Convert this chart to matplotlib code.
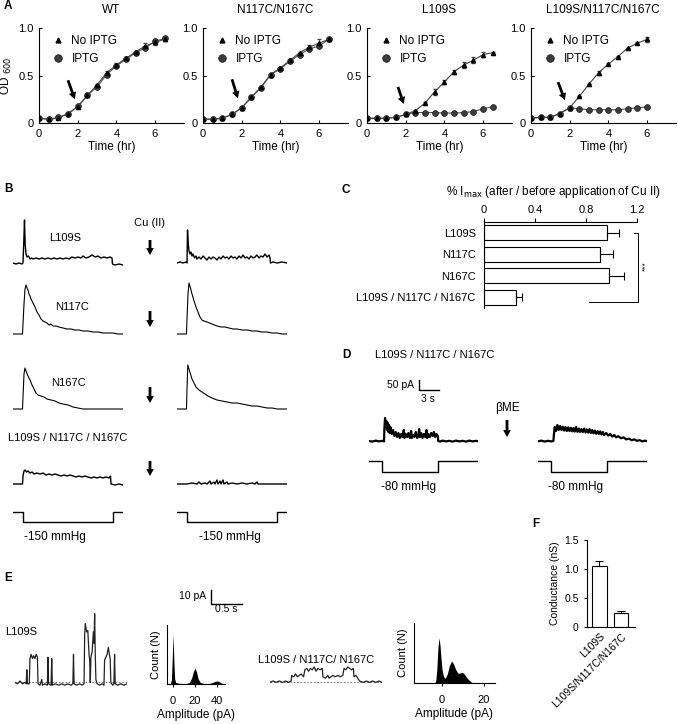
import matplotlib
matplotlib.use("Agg")
import matplotlib.pyplot as plt
from matplotlib.lines import Line2D
from matplotlib.patches import FancyArrowPatch

plt.rcParams['font.family'] = ['Liberation Sans', 'DejaVu Sans']
plt.rcParams['font.size'] = 8
plt.rcParams['axes.linewidth'] = 0.8

W, H = 678, 724
fig = plt.figure(figsize=(W / 100, H / 100), dpi=100)

ARROW = 'simple,head_length=0.5,head_width=0.55,tail_width=0.2'


def pax(l, t, w, h):
    """axes placed by pixel box (left, top, width, height)"""
    return fig.add_axes([l / W, 1 - (t + h) / H, w / W, h / H])


def ftxt(x, y, s, **kw):
    kw.setdefault('ha', 'center')
    kw.setdefault('va', 'center')
    fig.text(x / W, 1 - y / H, s, **kw)


def farrow(x, y0, y1):
    fig.add_artist(FancyArrowPatch(
        (x / W, 1 - y0 / H), (x / W, 1 - y1 / H), transform=fig.transFigure,
        arrowstyle=ARROW, mutation_scale=10, lw=0, color='k', shrinkA=0, shrinkB=0))


def split(pairs):
    return [p[0] for p in pairs], [p[1] for p in pairs]


# ---------------- A : growth curves ----------------
time_hr = [0, 0.5, 1, 1.5, 2, 2.5, 3, 3.5, 4, 4.5, 5, 5.5, 6, 6.5]

wt_no = [0.05, 0.04, 0.05, 0.10, 0.17, 0.29, 0.40, 0.53, 0.61, 0.68, 0.75, 0.81, 0.85, 0.88]
wt_ip = [0.05, 0.04, 0.06, 0.095, 0.175, 0.29, 0.38, 0.51, 0.60, 0.67, 0.74, 0.79, 0.86, 0.89]
wt_err = [0, 0, 0, 0, 0, 0, 0.01, 0.02, 0.02, 0.02, 0.01, 0.03, 0.03, 0.02]

dm_no = [0.04, 0.04, 0.05, 0.09, 0.16, 0.27, 0.38, 0.51, 0.58, 0.66, 0.74, 0.80, 0.84, 0.88]
dm_ip = [0.04, 0.04, 0.05, 0.09, 0.16, 0.27, 0.37, 0.51, 0.57, 0.65, 0.72, 0.78, 0.81, 0.88]
dm_err = [0, 0, 0, 0, 0, 0, 0.01, 0.01, 0.01, 0.01, 0.01, 0.02, 0.04, 0.01]

l_no = [0.05, 0.05, 0.05, 0.06, 0.09, 0.13, 0.21, 0.33, 0.43, 0.54, 0.61, 0.66, 0.72, 0.74]
l_ip = [0.05, 0.05, 0.05, 0.06, 0.09, 0.11, 0.11, 0.11, 0.105, 0.105, 0.11, 0.12, 0.15, 0.17]
l_err = [0, 0, 0, 0, 0, 0.01, 0.01, 0.03, 0.02, 0.02, 0.03, 0.03, 0.03, 0.01]

tr_no = [0.05, 0.06, 0.06, 0.10, 0.16, 0.28, 0.41, 0.53, 0.62, 0.70, 0.79, 0.84, 0.88]
tr_ip = [0.05, 0.06, 0.06, 0.10, 0.16, 0.15, 0.14, 0.14, 0.14, 0.14, 0.15, 0.16, 0.17]
tr_err = [0, 0, 0, 0, 0, 0, 0, 0.02, 0.01, 0.01, 0, 0.01, 0.03]

strains = ['WT', 'N117C/N167C', 'L109S', 'L109S/N117C/N167C']
no_iptg = [wt_no, dm_no, l_no, tr_no]
iptg = [wt_ip, dm_ip, l_ip, tr_ip]
errs = [wt_err, dm_err, l_err, tr_err]
arrow_from = [(1.5, 0.45), (1.5, 0.46), (1.6, 0.38), (1.4, 0.43)]
arrow_to = [(1.85, 0.25), (1.8, 0.26), (1.9, 0.2), (1.75, 0.24)]
a_left = [39, 203, 367, 531]

legend_handles = [
    Line2D([], [], ls='none', marker='^', ms=3.5, mfc='k', mec='k'),
    Line2D([], [], ls='none', marker='o', ms=5.5, mfc='#3c3c3c', mec='#1a1a1a', mew=0.5),
]

for i, name in enumerate(strains):
    ax = pax(a_left[i], 28, 145, 95)
    n = len(no_iptg[i])
    tt = time_hr[:n]
    ax.errorbar(tt, no_iptg[i], yerr=errs[i], color='#444444', lw=0.8, marker='^',
                ms=3, mfc='k', mec='k', capsize=1.5, elinewidth=0.6)
    ax.plot(tt, iptg[i], color='#555555', lw=0.8, marker='o', ms=4.2,
            mfc='#3c3c3c', mec='#1a1a1a', mew=0.5)
    ax.set_xlim(0, 7.5)
    ax.set_ylim(0, 1.0)
    ax.set_xticks([0, 2, 4, 6])
    ax.set_yticks([0, 0.5, 1.0], ['0', '0.5', '1.0'])
    ax.spines[['top', 'right']].set_visible(False)
    ax.tick_params(direction='in', length=2.5, pad=4, labelsize=8)
    ax.set_xlabel('Time (hr)', fontsize=8.5, labelpad=2)
    if i == 0:
        ax.set_ylabel('OD $_{600}$', fontsize=8.5, labelpad=3)
    ax.annotate('', xy=arrow_to[i], xytext=arrow_from[i],
                arrowprops=dict(arrowstyle=ARROW, lw=0, color='k', mutation_scale=10,
                                shrinkA=0, shrinkB=0))
    ax.legend(legend_handles, ['No IPTG', 'IPTG'], loc='upper left',
              bbox_to_anchor=(0.02, 1.04), frameon=False, fontsize=8.5,
              handlelength=1.0, handletextpad=0.6, labelspacing=0.55)
    ftxt(a_left[i] + 72, 10, name, fontsize=8.5)

ftxt(4, 6, 'A', fontweight='bold', ha='left', fontsize=8.5)

# ---------------- B : macroscopic currents ----------------
b_l109s_before = [(0, 0), (0.3, -1), (0.6, 0), (0.9, -1), (1.0, 0), (1.08, 22), (1.15, 43), (1.22, 18),
                  (1.3, 9), (1.4, 6), (1.55, 7), (1.7, 4), (1.85, 5), (2.0, 4), (2.3, 5), (2.6, 4),
                  (2.9, 5), (3.2, 4), (3.5, 5), (3.8, 4), (4.1, 5), (4.4, 4), (4.7, 5), (5.0, 4),
                  (5.3, 5), (5.6, 4), (5.9, 6), (6.2, 5), (6.5, 6), (6.8, 5), (7.0, 7), (7.3, 5),
                  (7.6, 6), (7.9, 8), (8.2, 6), (8.5, 7), (8.8, 5), (9.1, 6), (9.4, 5), (9.7, 6),
                  (9.9, 5), (9.95, -1), (10.2, -2), (10.6, -1), (11, -2)]
b_l109s_after = [(0, 0), (0.3, 1), (0.6, 0), (0.9, 1), (1.0, 0), (1.05, 33), (1.12, 20), (1.2, 12),
                 (1.3, 9), (1.4, 11), (1.5, 7), (1.6, 9), (1.75, 5), (1.9, 7), (2.0, 4), (2.2, 6),
                 (2.4, 4), (2.6, 7), (2.8, 5), (3.0, 3), (3.2, 6), (3.4, 4), (3.6, 6), (3.8, 5),
                 (4.0, 3), (4.2, 6), (4.4, 4), (4.6, 7), (4.8, 5), (5.0, 6), (5.2, 4), (5.4, 7),
                 (5.6, 5), (5.8, 6), (6.0, 4), (6.2, 7), (6.4, 5), (6.6, 8), (6.8, 5), (7.0, 6),
                 (7.2, 4), (7.4, 7), (7.6, 5), (7.8, 6), (8.0, 8), (8.2, 5), (8.4, 7), (8.6, 6),
                 (8.8, 9), (9.0, 6), (9.2, 8), (9.3, 5), (9.35, 0), (9.6, 1), (10.0, 0), (10.5, 1), (11, 0)]
b_n117c_before = [(0, 0), (0.5, 0), (0.95, 0), (1.0, 10), (1.1, 30), (1.2, 45), (1.3, 49), (1.4, 46),
                  (1.5, 44), (1.6, 40), (1.7, 38), (1.8, 35), (1.9, 33), (2.0, 31), (2.2, 27), (2.4, 22),
                  (2.6, 19), (2.8, 15), (3.0, 13), (3.2, 12), (3.4, 11), (3.6, 9), (3.8, 10), (4.0, 8),
                  (4.3, 8), (4.6, 7), (5.0, 6), (5.4, 5), (5.8, 5), (6.2, 4), (6.6, 4), (7.0, 3),
                  (7.5, 3), (8.0, 2), (8.5, 2), (9.0, 1), (9.5, 1), (10, 1), (10.5, 0), (11, 0)]
b_n117c_after = [(0, 0), (0.5, 0), (0.95, 0), (1.0, 15), (1.1, 40), (1.2, 51), (1.35, 46), (1.5, 40),
                 (1.7, 33), (1.9, 27), (2.1, 22), (2.3, 17), (2.5, 14), (2.7, 13), (3.0, 12), (3.5, 10),
                 (4.0, 8), (4.4, 7), (4.8, 7), (5.2, 6), (5.6, 5), (6.0, 5), (6.5, 4), (7.0, 4),
                 (7.5, 3), (8.0, 3), (8.5, 2), (9.0, 2), (9.5, 1), (10, 1), (10.5, 0), (11, 0)]
b_n167c_before = [(0, 0), (0.5, 0), (0.95, 0), (1.0, 12), (1.1, 35), (1.2, 41), (1.3, 38), (1.45, 34),
                  (1.6, 31), (1.75, 28), (1.9, 24), (2.1, 20), (2.3, 16), (2.5, 14), (2.8, 13), (3.1, 12),
                  (3.4, 10), (3.8, 9), (4.2, 8), (4.6, 6), (5.0, 5), (5.5, 4), (6.0, 2), (6.5, 1),
                  (7, 0), (8, 0), (9, 0), (10, 0), (11, 0)]
b_n167c_after = [(0, 0), (0.5, 0), (0.95, 0), (1.0, 20), (1.08, 44), (1.2, 40), (1.35, 35), (1.5, 30),
                 (1.7, 26), (1.9, 22), (2.2, 19), (2.5, 17), (2.8, 15), (3.1, 13), (3.5, 11), (4.0, 9),
                 (4.5, 8), (5.0, 7), (5.5, 6), (6.0, 6), (6.5, 5), (7.0, 4), (7.5, 3), (8.0, 3),
                 (8.5, 2), (9.0, 1), (9.5, 1), (10, 0), (11, 0)]
b_triple_before = [(0, 0), (0.5, 0), (0.95, 0), (1.0, 8), (1.1, 13), (1.2, 14), (1.35, 12), (1.5, 13),
                   (1.7, 11), (1.9, 12), (2.1, 10), (2.4, 11), (2.7, 10), (3.0, 11), (3.3, 9), (3.6, 10),
                   (3.9, 9), (4.2, 10), (4.5, 9), (4.8, 8), (5.1, 9), (5.4, 8), (5.7, 9), (6.0, 8),
                   (6.3, 7), (6.6, 8), (6.9, 7), (7.2, 8), (7.5, 7), (7.8, 6), (8.1, 7), (8.4, 6),
                   (8.7, 7), (9.0, 6), (9.3, 7), (9.6, 6), (9.75, 8), (9.8, 0), (10.2, -1), (10.6, 0), (11, -1)]
b_triple_after = [(0, 0), (1.0, 0), (1.5, 1), (2.0, 0), (2.2, 2), (2.4, 0), (2.8, 1), (3.0, 0),
                  (3.3, 3), (3.4, 0), (3.7, 2), (3.8, 0), (4.0, 4), (4.1, 0), (4.3, 3), (4.4, 0),
                  (4.6, 4), (4.7, 0), (5.0, 2), (5.1, 0), (5.5, 1), (6.0, 0), (6.5, 1), (7.0, 0),
                  (7.5, 1), (7.8, 0), (8.0, 2), (8.1, 0), (9, 0), (10, 0), (11, 0)]

pressure_t = [0, 1, 10, 11]
pressure_b = [0, -150, 0, 0]

b_rows = [(b_l109s_before, b_l109s_after), (b_n117c_before, b_n117c_after),
          (b_n167c_before, b_n167c_after), (b_triple_before, b_triple_after)]
b_base = [263, 334, 409, 484]
b_widths = [1.0, 0.8, 0.8, 1.0]

for r, (before, after) in enumerate(b_rows):
    for left, trace in ((13, before), (177, after)):
        ax = pax(left, b_base[r] - 55, 110, 60)
        tx, iy = split(trace)
        ax.plot(tx, iy, color='k', lw=b_widths[r])
        ax.set_xlim(0, 11)
        ax.set_ylim(-5, 55)
        ax.axis('off')

for left in (13, 177):
    ax = pax(left, 505, 110, 20)
    ax.plot(pressure_t, pressure_b, drawstyle='steps-post', color='k', lw=1.0)
    ax.set_xlim(0, 11)
    ax.set_ylim(-200, 100)
    ax.axis('off')

ftxt(4, 189, 'B', fontweight='bold', ha='left', fontsize=8.5)
ftxt(150, 223, 'Cu (II)')
ftxt(65, 238, 'L109S')
ftxt(72, 307, 'N117C')
ftxt(68, 383, 'N167C')
ftxt(8, 438, 'L109S / N117C / N167C', ha='left')
ftxt(55, 537, '-150 mmHg', fontsize=8.5)
ftxt(230, 537, '-150 mmHg', fontsize=8.5)
for y0, y1 in ((240, 255), (311, 327), (387, 403), (461, 476)):
    farrow(150, y0, y1)

# ---------------- C : relative Imax ----------------
c_labels = ['L109S', 'N117C', 'N167C', 'L109S / N117C / N167C']
c_vals = [0.965, 0.91, 0.98, 0.25]
c_err = [0.09, 0.10, 0.115, 0.05]

ax = pax(484, 222, 153, 86)
ax.barh(range(len(c_vals)), c_vals, height=0.69, color='white', edgecolor='k', lw=0.8,
        xerr=[[0] * len(c_err), c_err], capsize=3, error_kw=dict(lw=0.8, capthick=0.8))
ax.set_xlim(0, 1.2)
ax.set_ylim(3.5, -0.5)
ax.xaxis.tick_top()
ax.set_xticks([0, 0.4, 0.8, 1.2], ['0', '0.4', '0.8', '1.2'])
ax.set_yticks(range(len(c_labels)), c_labels)
ax.tick_params(axis='y', length=0, pad=6, labelsize=8)
ax.tick_params(axis='x', length=3, pad=2, labelsize=8)
ax.spines[['right', 'bottom']].set_visible(False)
ax.plot([1.175, 1.208, 1.208, 0.82], [0.0, 0.0, 3.22, 3.22], color='k', lw=0.7, clip_on=False)
ax.text(1.265, 1.55, '***', rotation=90, ha='center', va='center', fontsize=6, clip_on=False)

ftxt(342, 190, 'C', fontweight='bold', ha='left', fontsize=8.5)
ftxt(553, 192, '% I$_{\\rm max}$ (after / before application of Cu II)', fontsize=8.5)

# ---------------- D : beta-ME reversal ----------------
d_before = [(0, 0), (0.5, -3), (1.0, 2), (1.5, -2), (2.0, 1), (2.25, -2), (2.3, 60), (2.4, 115),
            (2.5, 70), (2.6, 100), (2.7, 55), (2.8, 90), (2.9, 45), (3.0, 80), (3.1, 40), (3.2, 70),
            (3.4, 35), (3.6, 55), (3.8, 25), (4.0, 45), (4.2, 20), (4.4, 40), (4.6, 15), (4.8, 35),
            (5.0, 20), (5.2, 55), (5.3, 15), (5.5, 35), (5.7, 20), (5.9, 40), (6.1, 15), (6.3, 50),
            (6.4, 15), (6.6, 30), (6.8, 20), (7.0, 45), (7.2, 15), (7.4, 30), (7.5, 60), (7.6, 20),
            (7.8, 40), (8.0, 15), (8.2, 35), (8.4, 20), (8.6, 55), (8.7, 15), (8.9, 35), (9.1, 20),
            (9.3, 40), (9.5, 25), (9.7, 45), (9.9, 20), (10.1, 35), (10.3, 25), (10.35, 0), (10.6, -3),
            (11, 2), (11.5, -2), (12, 1), (12.5, -3), (13, 2), (13.5, -2), (14, 1), (14.5, -3),
            (15, 2), (15.5, -2), (16, 1), (16.3, -2)]
d_after = [(0, -2), (0.5, 2), (1.0, -3), (1.5, 1), (2.0, -2), (2.3, 0), (2.4, 40), (2.5, 70),
           (2.7, 50), (2.9, 80), (3.1, 55), (3.3, 75), (3.5, 55), (3.7, 72), (3.9, 52), (4.1, 70),
           (4.3, 50), (4.5, 68), (4.7, 50), (4.9, 66), (5.1, 48), (5.3, 65), (5.5, 47), (5.7, 70),
           (5.9, 46), (6.1, 62), (6.3, 45), (6.5, 60), (6.7, 44), (6.9, 62), (7.1, 43), (7.3, 58),
           (7.5, 42), (7.7, 60), (7.9, 40), (8.1, 55), (8.3, 38), (8.5, 52), (8.7, 36), (8.9, 50),
           (9.1, 35), (9.3, 48), (9.5, 33), (9.7, 45), (9.9, 30), (10.2, 40), (10.5, 27), (10.8, 35),
           (11.1, 22), (11.4, 30), (11.7, 18), (12.0, 24), (12.4, 14), (12.8, 18), (13.2, 8), (13.6, 12),
           (14.0, 4), (14.4, 8), (14.8, 1), (15.2, 4), (15.6, -2), (16.0, 2), (16.3, -1)]
pressure_dt = [0, 2, 10.3, 16.3]
pressure_d = [0, -80, 0, 0]

for left, trace in ((369, d_before), (538, d_after)):
    ax = pax(left, 410, 109, 36)
    tx, iy = split(trace)
    ax.plot(tx, iy, color='k', lw=1.6)
    ax.set_xlim(0, 16.3)
    ax.set_ylim(-25, 155)
    ax.axis('off')
    ax = pax(left, 455, 109, 22)
    ax.plot(pressure_dt, pressure_d, drawstyle='steps-post', color='k', lw=1.0)
    ax.set_xlim(0, 16.3)
    ax.set_ylim(-120, 40)
    ax.axis('off')

# scale bar 50 pA / 3 s
ax = pax(417, 378, 25, 14)
ax.plot([0, 0, 3], [50, 0, 0], color='k', lw=1.0)
ax.set_xlim(-0.3, 3.45)
ax.set_ylim(-10, 60)
ax.axis('off')

ftxt(342, 355, 'D', fontweight='bold', ha='left', fontsize=8.5)
ftxt(375, 355, 'L109S / N117C / N167C', ha='left')
ftxt(414, 385, '50 pA', ha='right', fontsize=7.5)
ftxt(428, 399, '3 s', fontsize=7.5)
ftxt(507, 408, 'βME', fontsize=8.5)
farrow(507, 420, 437)
ftxt(408, 487, '-80 mmHg', fontsize=8.5)
ftxt(576, 487, '-80 mmHg', fontsize=8.5)

# ---------------- E : single channels ----------------
e_l109s = [(0, 0), (0.04, -1), (0.08, 1), (0.12, -1), (0.16, 0), (0.18, -1), (0.19, 9), (0.2, -1),
           (0.23, -1), (0.24, 17), (0.26, 20), (0.28, 17), (0.30, 19), (0.32, 17), (0.34, 20), (0.36, 18),
           (0.37, -1), (0.40, -2), (0.43, 2), (0.44, -2), (0.48, -1), (0.52, -2), (0.53, 18), (0.54, -1),
           (0.58, -2), (0.59, 17), (0.60, -2), (0.65, -1), (0.70, -2), (0.75, -1), (0.80, -2), (0.85, -1),
           (0.90, -2), (0.93, -1), (0.94, 20), (0.95, -1), (0.99, -2), (1.04, -1), (1.08, -2), (1.11, -1),
           (1.12, 35), (1.13, 42), (1.15, 36), (1.17, 37), (1.19, 20), (1.20, 16), (1.21, 0), (1.22, 18),
           (1.24, 22), (1.26, 36), (1.27, 28), (1.28, 49), (1.29, 20), (1.30, 2), (1.32, -1), (1.36, -2),
           (1.40, -1), (1.43, -2), (1.44, 16), (1.46, 18), (1.48, 20), (1.50, 25), (1.52, 19), (1.53, 17),
           (1.54, 0), (1.57, -2), (1.59, -1), (1.60, 20), (1.61, -1), (1.65, -2), (1.70, -1), (1.75, -2),
           (1.80, -1)]
e_triple = [(0, 0), (0.05, 1), (0.1, 0), (0.15, 1), (0.2, 0), (0.25, 1), (0.3, 0), (0.34, 1),
            (0.35, 5), (0.38, 4), (0.41, 6), (0.44, 4), (0.47, 5), (0.50, 6), (0.54, 4), (0.56, 9),
            (0.59, 10), (0.62, 8), (0.65, 10), (0.68, 9), (0.71, 11), (0.74, 8), (0.77, 10), (0.80, 9),
            (0.84, 10), (0.85, 4), (0.89, 3), (0.93, 5), (0.95, 3), (0.98, 4), (1.01, 5), (1.05, 4),
            (1.09, 5), (1.13, 4), (1.17, 5), (1.19, 10), (1.22, 9), (1.25, 11), (1.28, 10), (1.31, 9),
            (1.34, 10), (1.35, 4), (1.38, 5), (1.41, 3), (1.44, 1), (1.5, 0), (1.55, 1), (1.6, 0),
            (1.65, 1), (1.7, 0), (1.75, 1), (1.8, 0)]

amp1 = [-4, -2.5, -1.5, -0.8, 0, 0.8, 1.5, 2.5, 4, 8, 12, 15, 17, 18.5, 20, 21.5, 23, 25, 28, 33,
        36, 38, 40, 42, 44, 47]
cnt1 = [0, 0.01, 0.08, 0.45, 1.0, 0.45, 0.1, 0.03, 0.02, 0.01, 0.01, 0.03, 0.12, 0.24, 0.32, 0.24,
        0.1, 0.03, 0.01, 0.01, 0.03, 0.05, 0.06, 0.05, 0.02, 0]
amp2 = [-3.5, -3, -2.5, -2, -1.5, -1, -0.5, 0, 0.5, 1, 1.6, 2.5, 3.5, 4.5, 5.5, 6.5, 7.5, 8.5,
        9.5, 10.5, 11.5, 12.5, 13.5, 14.7]
cnt2 = [0, 0.05, 0.3, 0.75, 1.0, 0.85, 0.55, 0.3, 0.18, 0.12, 0.11, 0.2, 0.38, 0.49, 0.42, 0.3,
        0.22, 0.22, 0.24, 0.21, 0.14, 0.08, 0.04, 0]

for left, trace in ((15, e_l109s), (270, e_triple)):
    ax = pax(left, 608, 112, 80)
    tx, iy = split(trace)
    ax.axhline(0, color='#666666', lw=0.6, ls=(0, (2, 2)))
    ax.plot(tx, iy, color='#222222', lw=0.9)
    ax.set_xlim(0, 1.8)
    ax.set_ylim(-4, 53.1)
    ax.axis('off')

hist_specs = [(167, 625, 58, 59, amp1, cnt1, (-5.5, 47.5), 1.18, [0, 20, 40]),
              (414, 623, 81, 60, amp2, cnt2, (-13.4, 25.3), 1.33, [0, 20])]
for l, t, w, h, amp, cnt, xl, ytop, ticks in hist_specs:
    ax = pax(l, t, w, h)
    ax.fill_between(amp, cnt, color='k', lw=0)
    ax.set_xlim(*xl)
    ax.set_ylim(0, ytop)
    ax.set_xticks(ticks)
    ax.set_yticks([])
    ax.spines[['top', 'right']].set_visible(False)
    ax.tick_params(axis='x', direction='out', length=2.5, pad=6, labelsize=8)
    ax.set_xlabel('Amplitude (pA)', fontsize=8.5, labelpad=2)
    ax.set_ylabel('Count (N)', fontsize=8, labelpad=4)

# scale bar 10 pA / 0.5 s
ax = pax(209, 588, 36, 18)
ax.plot([0, 0, 0.5], [10, 0, 0], color='k', lw=1.0)
ax.set_xlim(-0.032, 0.548)
ax.set_ylim(-1.43, 11.43)
ax.axis('off')

ftxt(4, 578, 'E', fontweight='bold', ha='left', fontsize=8.5)
ftxt(206, 596, '10 pA', ha='right', fontsize=7.5)
ftxt(226, 609, '0.5 s', fontsize=7.5)
ftxt(5, 632, 'L109S', ha='left')
ftxt(258, 660, 'L109S / N117C/ N167C', ha='left')

# ---------------- F : conductance ----------------
f_labels = ['L109S', 'L109S/N117C/N167C']
f_vals = [1.05, 0.25]
f_err = [0.08, 0.03]

ax = pax(587, 540, 48, 87)
ax.bar(range(len(f_vals)), f_vals, width=0.67, color='white', edgecolor='k', lw=0.8,
       yerr=[[0] * len(f_err), f_err], capsize=3, error_kw=dict(lw=0.8, capthick=0.8))
ax.set_xlim(-0.58, 1.65)
ax.set_ylim(0, 1.5)
ax.set_yticks([0, 0.5, 1.0, 1.5], ['0', '0.5', '1.0', '1.5'])
ax.set_xticks(range(len(f_labels)), f_labels, rotation=45, ha='right', rotation_mode='anchor')
ax.tick_params(axis='x', length=0, pad=3, labelsize=7.5)
ax.tick_params(axis='y', length=2.5, labelsize=7.5)
ax.spines[['top', 'right']].set_visible(False)
ax.set_ylabel('Conductance (nS)', fontsize=7.5, labelpad=3)
ftxt(532, 524, 'F', fontweight='bold', ha='left', fontsize=8.5)

fig.savefig('out.png', dpi=100)
